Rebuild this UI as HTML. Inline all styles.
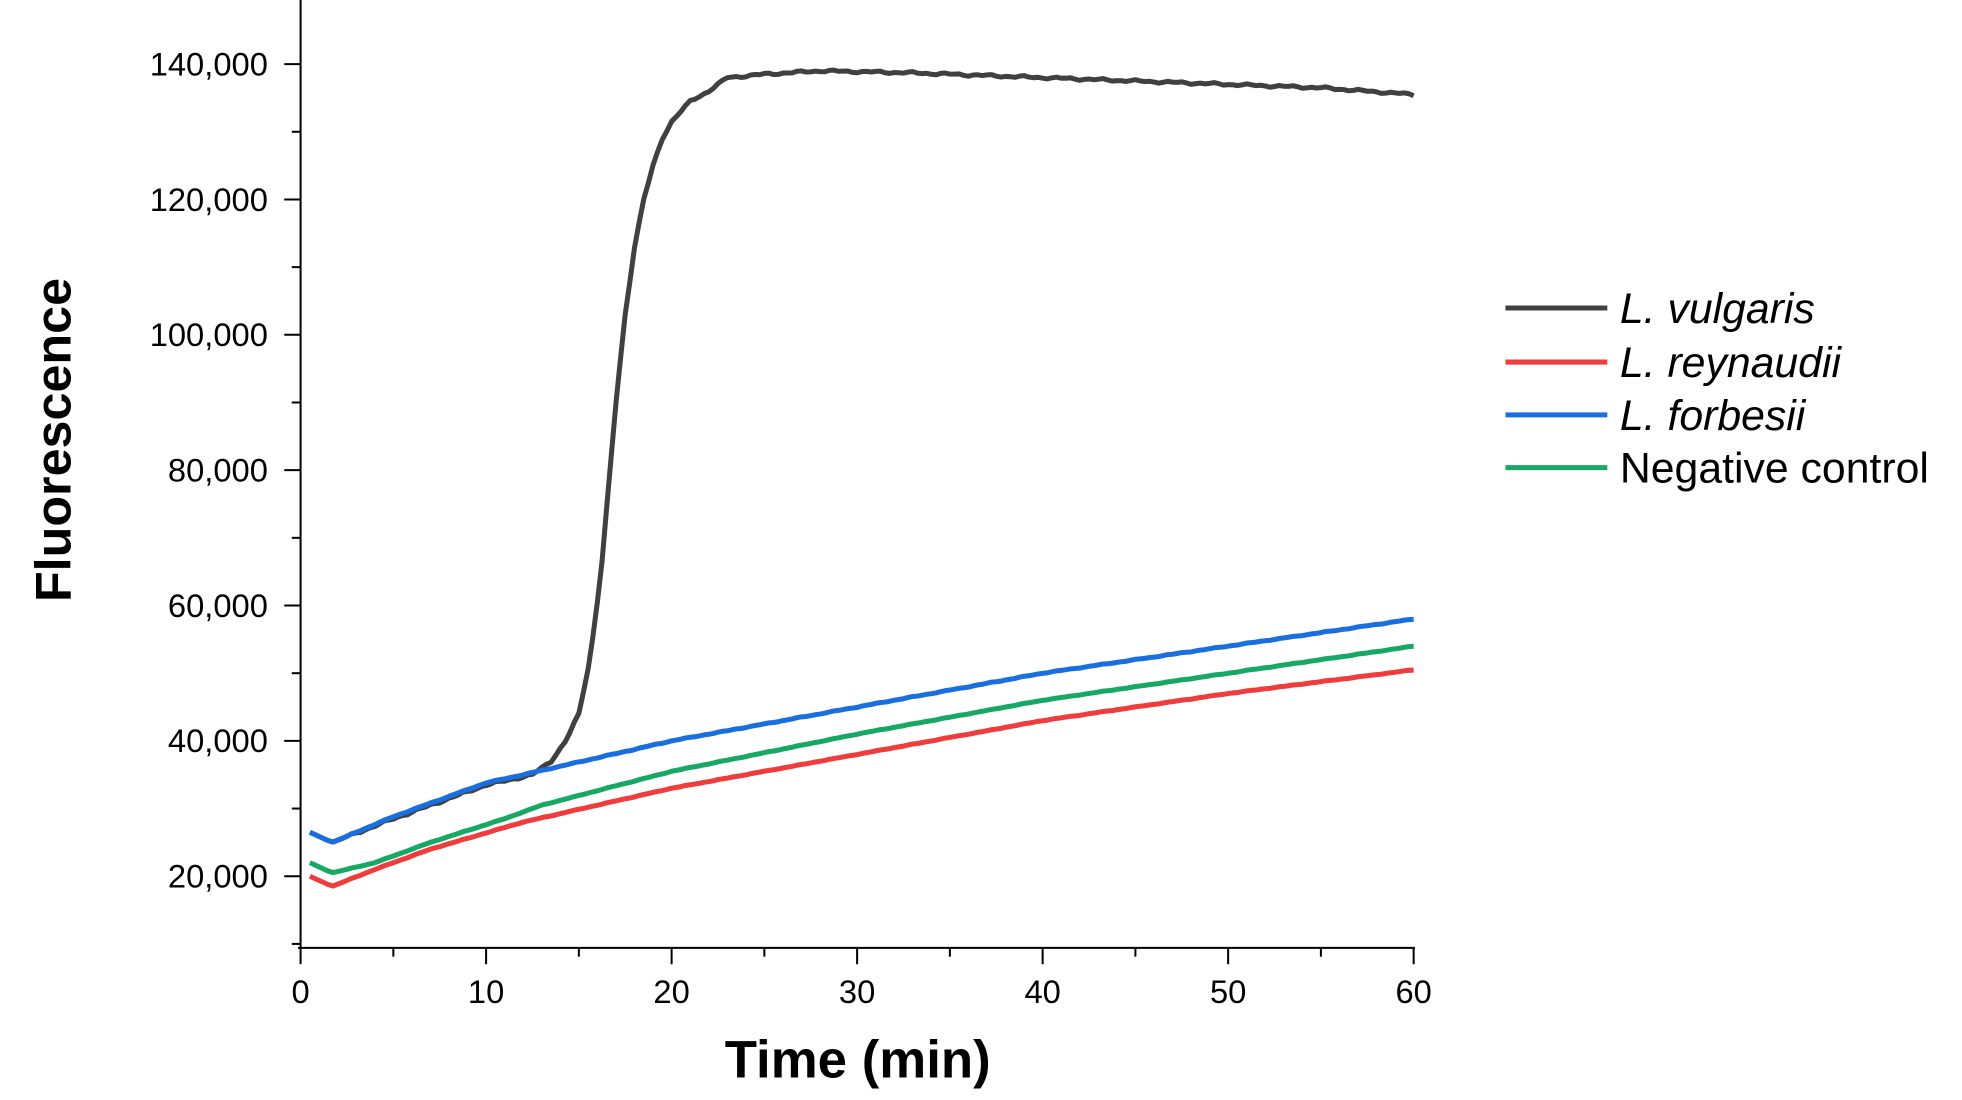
<!DOCTYPE html>
<html><head><style>html,body{margin:0;padding:0;background:#fff;}svg{display:block}</style></head>
<body>
<svg id="s" width="1962" height="1100" viewBox="0 0 1560 875" preserveAspectRatio="none" xmlns="http://www.w3.org/2000/svg" font-family="Liberation Sans, Arial, sans-serif">
<rect width="1560" height="875" fill="#fff"/>
<g id="ax" stroke="#000" stroke-width="1.6"></g>
<g id="lab" font-size="26" fill="#000"></g>
<g id="ser" fill="none" stroke-width="4" stroke-linejoin="round"></g>
<text x="56" y="350" font-size="40" font-weight="bold" text-anchor="middle" transform="rotate(-90 56 350)">Fluorescence</text>
<text x="682" y="857" font-size="42" font-weight="bold" text-anchor="middle">Time (min)</text>
<g stroke-width="4">
<line x1="1197" y1="245" x2="1278" y2="245" stroke="#404040"/>
<line x1="1197" y1="288" x2="1278" y2="288" stroke="#f03c3c"/>
<line x1="1197" y1="330" x2="1278" y2="330" stroke="#1a6fe0"/>
<line x1="1197" y1="372" x2="1278" y2="372" stroke="#16a864"/>
</g>
<g font-size="34" fill="#000">
<text x="1288" y="257" font-style="italic">L. vulgaris</text>
<text x="1288" y="300" font-style="italic">L. reynaudii</text>
<text x="1288" y="342" font-style="italic">L. forbesii</text>
<text x="1288" y="384">Negative control</text>
</g>
</svg>
<script>
const NS="http://www.w3.org/2000/svg";
const X=t=>239+t*14.75, Y=v=>697-(v-20000)/20000*107.67;
function el(p,n,a,txt){const e=document.createElementNS(NS,n);for(const k in a)e.setAttribute(k,a[k]);if(txt)e.textContent=txt;document.getElementById(p).appendChild(e);}
el("ax","line",{x1:239,y1:0,x2:239,y2:754});
el("ax","line",{x1:237,y1:754,x2:1125,y2:754});
for(let v=10000;v<=150000;v+=10000){const y=Y(v);if(y<2)continue;const maj=v%20000==0;el("ax","line",{x1:maj?226:232,y1:y,x2:239,y2:y});if(maj)el("lab","text",{x:213,y:y+9,"text-anchor":"end"},v.toLocaleString("en-US"));}
for(let t=0;t<=60;t+=5){const x=X(t),maj=t%10==0;el("ax","line",{x1:x,y1:754,x2:x,y2:maj?767:761});if(maj)el("lab","text",{x:x,y:798,"text-anchor":"middle"},String(t));}
function interp(k,t){for(let i=0;i<k.length-1;i++){if(t<=k[i+1][0]){const [a,va]=k[i],[b,vb]=k[i+1];return va+(vb-va)*(t-a)/(b-a);}}return k[k.length-1][1];}
const S=[
["#404040",[[0.5,26500],[1.7,25000],[5,28500],[10,33500],[12.5,35000],[13.5,37000],[14.3,40000],[15,44000],[15.6,52000],[16.2,65000],[17,90000],[17.5,103000],[18,113000],[18.5,120000],[19,125000],[19.5,129000],[20,131500],[21,134500],[22,136000],[23,138000],[25,138500],[28,139000],[33,138700],[40,138000],[45,137500],[50,137000],[55,136500],[60,135500]],200],
["#1a6fe0",[[0.5,26500],[1.7,25000],[5,28800],[10,33800],[12,35000],[20,40000],[30,45000],[40,50000],[50,54000],[60,58000]],60],
["#16a864",[[0.5,22000],[1.7,20500],[4,22000],[7,25000],[11,28500],[13,30500],[20,35500],[30,41000],[40,46000],[50,50000],[60,54000]],40],
["#f03c3c",[[0.5,20000],[1.7,18500],[4,21000],[7,24000],[12,28000],[20,33000],[30,38000],[40,43000],[50,47000],[60,50500]],40]];
S.forEach(([c,k,n])=>{let d="";for(let t=0.5;t<=60.001;t+=0.25){let v=interp(k,t)+(t>2?(Math.sin(t*7.3)+Math.sin(t*3.1))*n*0.5:0);d+=(d?"L":"M")+X(t).toFixed(1)+" "+Y(v).toFixed(1);}el("ser","path",{d:d,stroke:c});});
</script>
</body></html>
